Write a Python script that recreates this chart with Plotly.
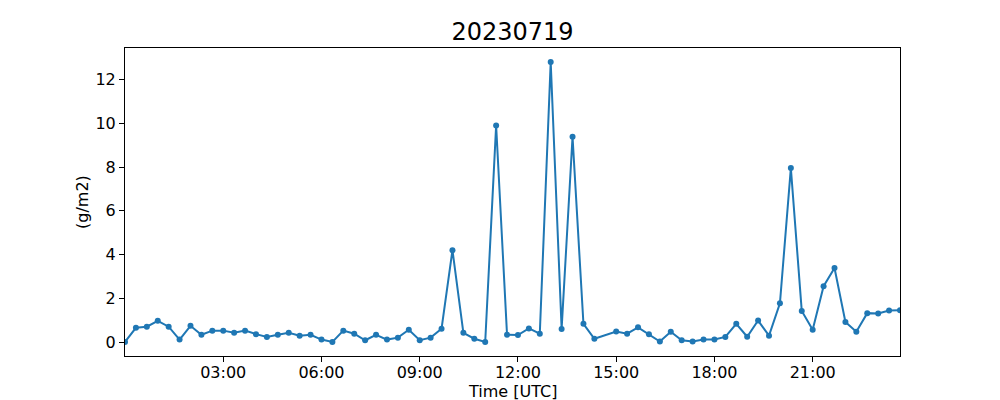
import plotly.graph_objects as go
import pandas as pd

date = "2023-07-19"
times = [
    "00:00", "00:20", "00:40", "01:00", "01:20", "01:40", "02:00", "02:20", "02:40",
    "03:00", "03:20", "03:40", "04:00", "04:20", "04:40", "05:00", "05:20", "05:40",
    "06:00", "06:20", "06:40", "07:00", "07:20", "07:40", "08:00", "08:20", "08:40",
    "09:00", "09:20", "09:40", "10:00", "10:20", "10:40", "11:00", "11:20", "11:40",
    "12:00", "12:20", "12:40", "13:00", "13:20", "13:40", "14:00", "14:20",
    "15:00", "15:20", "15:40", "16:00", "16:20", "16:40", "17:00", "17:20", "17:40",
    "18:00", "18:20", "18:40", "19:00", "19:20", "19:40", "20:00", "20:20", "20:40",
    "21:00", "21:20", "21:40", "22:00", "22:20", "22:40", "23:00", "23:20", "23:40",
]
values = [
    0.00, 0.65, 0.70, 0.97, 0.70, 0.11, 0.74, 0.33, 0.52,
    0.52, 0.42, 0.52, 0.36, 0.23, 0.33, 0.42, 0.29, 0.33,
    0.11, 0.00, 0.52, 0.38, 0.08, 0.33, 0.11, 0.20, 0.56,
    0.08, 0.20, 0.61, 4.20, 0.42, 0.15, 0.00, 9.90, 0.33,
    0.32, 0.62, 0.38, 12.80, 0.60, 9.38, 0.83, 0.15,
    0.48, 0.38, 0.67, 0.35, 0.02, 0.47, 0.08, 0.02, 0.11,
    0.11, 0.23, 0.83, 0.24, 0.98, 0.29, 1.77, 7.95, 1.42,
    0.56, 2.55, 3.38, 0.92, 0.47, 1.32, 1.30, 1.44, 1.45,
]
tick_labels = ["03:00", "06:00", "09:00", "12:00", "15:00", "18:00", "21:00"]
title_text = "20230719"
x_title = "Time [UTC]"
y_title = "(g/m2)"

x = pd.to_datetime([f"{date} {t}" for t in times])
tickvals = pd.to_datetime([f"{date} {t}" for t in tick_labels])

vmin, vmax = min(values), max(values)
pad = 0.05 * (vmax - vmin)

fig = go.Figure()
fig.add_trace(go.Scatter(
    x=x, y=values, mode="lines+markers",
    line=dict(color="#1f77b4", width=2),
    marker=dict(color="#1f77b4", size=6),
    showlegend=False,
))

font = "DejaVu Sans, sans-serif"
fig.update_layout(
    width=1000, height=400,
    margin=dict(l=117, r=108, t=40, b=52, autoexpand=False),
    paper_bgcolor="white", plot_bgcolor="white",
    font=dict(family=font, size=16, color="black"),
    title=dict(text=title_text, x=0.5, xref="paper", xanchor="center",
               y=1 - 24 / 400, yref="container", yanchor="middle",
               font=dict(size=24, family=font, color="black")),
    annotations=[
        dict(text=x_title, xref="paper", yref="paper", x=0.5, y=-0.114,
             xanchor="center", yanchor="middle", showarrow=False,
             font=dict(size=16, family=font, color="black")),
        dict(text=y_title, xref="paper", yref="paper", x=-0.0555, y=0.5,
             xanchor="center", yanchor="middle", showarrow=False, textangle=-90,
             font=dict(size=16, family=font, color="black")),
    ],
)
fig.update_xaxes(
    range=[x[0], x[-1]],
    tickvals=tickvals, ticktext=tick_labels,
    showgrid=False, zeroline=False,
    showline=True, linecolor="black", linewidth=1, mirror=True,
    ticks="outside", ticklen=5, tickcolor="black",
    tickfont=dict(size=16), automargin=False, ticklabelstandoff=-3,
)
fig.update_yaxes(
    range=[vmin - pad, vmax + pad],
    tickvals=[0, 2, 4, 6, 8, 10, 12],
    showgrid=False, zeroline=False,
    showline=True, linecolor="black", linewidth=1, mirror=True,
    ticks="outside", ticklen=5, tickcolor="black",
    tickfont=dict(size=16), automargin=False,
)

fig.write_html("out.html")
